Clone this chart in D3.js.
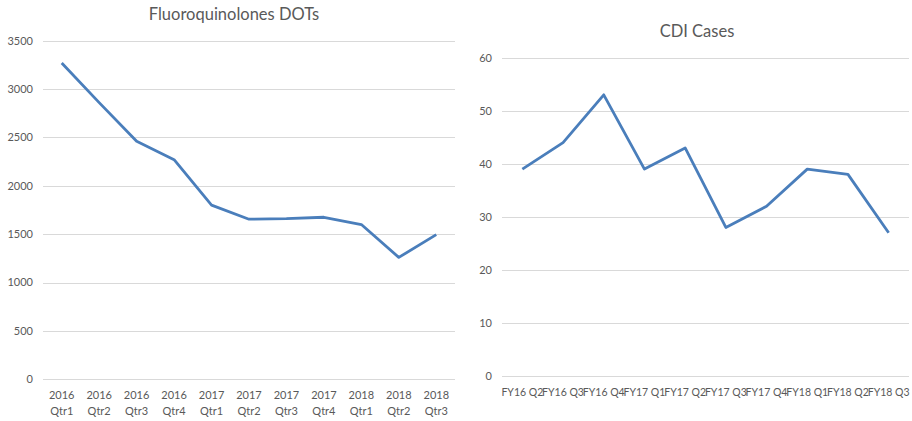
<!DOCTYPE html>
<html>
<head>
<meta charset="utf-8">
<script src="https://cdn.jsdelivr.net/npm/d3@7"></script>
<style>
  html, body { margin: 0; padding: 0; background: #fff; }
  svg { display: block; }
  text { font-family: Lato, "Open Sans", sans-serif; fill: #595959; }
</style>
</head>
<body>
<svg id="chart" width="912" height="421"></svg>
<script>
// Fluoroquinolone days of therapy, by calendar quarter
const fqYears = ["2016", "2016", "2016", "2016", "2017", "2017", "2017", "2017", "2018", "2018", "2018"];
const fqQuarters = ["Qtr1", "Qtr2", "Qtr3", "Qtr4", "Qtr1", "Qtr2", "Qtr3", "Qtr4", "Qtr1", "Qtr2", "Qtr3"];
const fqDots = [3270, 2860, 2460, 2270, 1800, 1655, 1660, 1675, 1600, 1260, 1495];
const fqTicks = [0, 500, 1000, 1500, 2000, 2500, 3000, 3500];

// C. difficile infection cases, by fiscal quarter
const cdiQuarters = ["FY16 Q2", "FY16 Q3", "FY16 Q4", "FY17 Q1", "FY17 Q2", "FY17 Q3", "FY17 Q4", "FY18 Q1", "FY18 Q2", "FY18 Q3"];
const cdiCases = [39, 44, 53, 39, 43, 28, 32, 39, 38, 27];
const cdiTicks = [0, 10, 20, 30, 40, 50, 60];

const svg = d3.select("#chart");
const LINE = "#4a7ebb";
const GRID = "#d9d9d9";

function drawPanel(opts) {
  const g = svg.append("g");
  const x = d3.scaleBand()
    .domain(d3.range(opts.values.length))
    .range([opts.left, opts.right]);
  const y = d3.scaleLinear()
    .domain([0, d3.max(opts.ticks)])
    .range([opts.bottom, opts.top]);

  // horizontal gridlines
  g.append("g").selectAll("line").data(opts.ticks).join("line")
    .attr("x1", opts.left).attr("x2", opts.right)
    .attr("y1", d => Math.round(y(d)) + 0.5).attr("y2", d => Math.round(y(d)) + 0.5)
    .attr("stroke", GRID).attr("stroke-width", 1);

  // y tick labels
  g.append("g").selectAll("text").data(opts.ticks).join("text")
    .attr("x", opts.left - 10).attr("y", d => y(d))
    .attr("dy", "0.35em")
    .attr("text-anchor", "end")
    .style("font-size", "11px")
    .text(d => d);

  // category labels
  const lab = g.append("g").selectAll("text").data(opts.labels).join("text")
    .attr("text-anchor", "middle")
    .style("font-size", opts.labelSize)
    .attr("x", (d, i) => x(i) + x.bandwidth() / 2);
  opts.labelText(lab);

  // series line
  const line = d3.line()
    .x((d, i) => x(i) + x.bandwidth() / 2)
    .y(d => y(d));
  g.append("path")
    .datum(opts.values)
    .attr("d", line)
    .attr("fill", "none")
    .attr("stroke", LINE)
    .attr("stroke-width", 2.8)
    .attr("stroke-linejoin", "round");

  // title
  g.append("text")
    .attr("x", opts.titleX).attr("y", opts.titleY)
    .attr("text-anchor", "middle")
    .style("font-size", "16.5px")
    .text(opts.title);
}

drawPanel({
  title: "Fluoroquinolones DOTs",
  titleX: 234, titleY: 20,
  left: 43, right: 455, top: 40.7, bottom: 379.3,
  values: fqDots, ticks: fqTicks,
  labels: fqYears,
  labelSize: "11px",
  // two-line labels: year above, quarter below
  labelText: sel => {
    sel.attr("y", 399).text(d => d);
    sel.append("tspan")
      .attr("x", function () { return this.parentNode.getAttribute("x"); })
      .attr("dy", "15.5")
      .text((d, i) => fqQuarters[i]);
  }
});

drawPanel({
  title: "CDI Cases",
  titleX: 697, titleY: 37,
  left: 502, right: 909, top: 57.7, bottom: 376,
  values: cdiCases, ticks: cdiTicks,
  labels: cdiQuarters,
  labelSize: "10.5px",
  labelText: sel => sel.attr("y", 396).text(d => d)
});
</script>
</body>
</html>
